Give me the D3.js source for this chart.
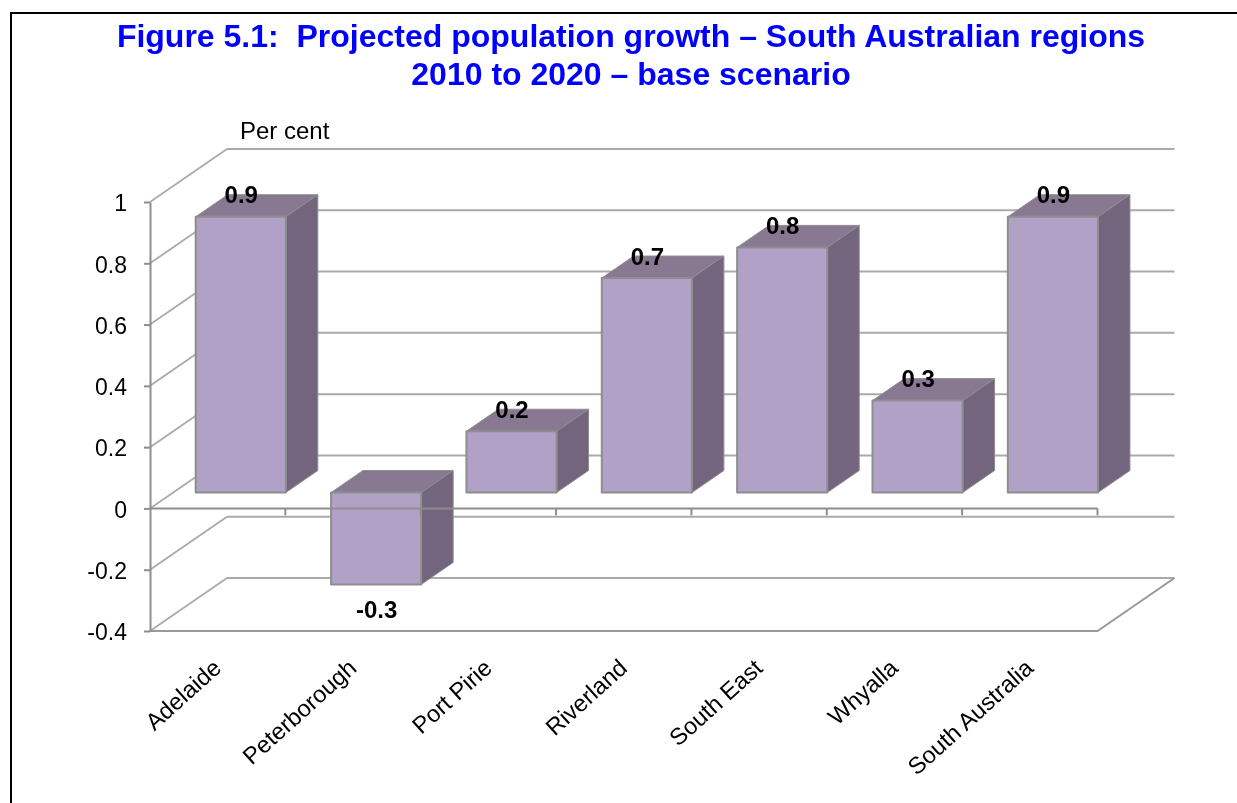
<!DOCTYPE html>
<html>
<head>
<meta charset="utf-8">
<script src="https://cdnjs.cloudflare.com/ajax/libs/d3/7.8.5/d3.min.js"></script>
<style>
html, body { margin: 0; padding: 0; background: #fff; overflow: hidden; }
svg { display: block; font-family: "Liberation Sans", Arial, sans-serif; filter: blur(0.4px); }
</style>
</head>
<body>
<div id="chart"></div>
<script>
var categories = ["Adelaide", "Peterborough", "Port Pirie", "Riverland", "South East", "Whyalla", "South Australia"];
var growth = [0.9, -0.3, 0.2, 0.7, 0.8, 0.3, 0.9];
var yTicks = [1, 0.8, 0.6, 0.4, 0.2, 0, -0.2, -0.4];
var titleLines = ["Figure 5.1:  Projected population growth \u2013 South Australian regions", "2010 to 2020 \u2013 base scenario"];

var width = 1237, height = 803;

var svg = d3.select("#chart").append("svg")
    .attr("width", width)
    .attr("height", height);

// front face of the box
var x = d3.scaleBand().domain(categories).range([150, 1097.5]);
var y = d3.scaleLinear().domain([-0.4, 1]).range([631, 202]);
// depth into the chart, 0 = front, 1 = back wall
var zx = d3.scaleLinear().domain([0, 1]).range([0, 77]);
var zy = d3.scaleLinear().domain([0, 1]).range([0, -53]);

// frame
svg.append("path")
    .attr("d", "M11,803V13H1237")
    .attr("fill", "none")
    .attr("stroke", "#000")
    .attr("stroke-width", 2);

// title
svg.selectAll(".title")
    .data(titleLines)
  .enter().append("text")
    .attr("class", "title")
    .attr("x", 631)
    .attr("y", function(d, i) { return 47 + i * 38; })
    .attr("text-anchor", "middle")
    .style("white-space", "pre")
    .style("font-size", "32px")
    .style("font-weight", "bold")
    .style("fill", "#0000ff")
    .text(function(d) { return d; });

svg.append("text")
    .attr("x", 240)
    .attr("y", 138.5)
    .style("font-size", "24px")
    .style("fill", "#000")
    .text("Per cent");

var x0 = x.range()[0], x1 = x.range()[1];

// back wall lines
svg.selectAll(".grid")
    .data(yTicks)
  .enter().append("line")
    .attr("class", "grid")
    .attr("x1", x0 + zx(1))
    .attr("x2", x1 + zx(1))
    .attr("y1", function(d) { return y(d) + zy(1); })
    .attr("y2", function(d) { return y(d) + zy(1); })
    .attr("stroke", "#aaa")
    .attr("stroke-width", 2);

// left wall lines
svg.selectAll(".diag")
    .data(yTicks)
  .enter().append("line")
    .attr("class", "diag")
    .attr("x1", x0)
    .attr("x2", x0 + zx(1))
    .attr("y1", function(d) { return y(d); })
    .attr("y2", function(d) { return y(d) + zy(1); })
    .attr("stroke", "#aaa")
    .attr("stroke-width", 1.8);

// floor front edge and right edge at the bottom
svg.append("path")
    .attr("d", "M" + x0 + "," + y(-0.4) + "H" + x1 + "L" + (x1 + zx(1)) + "," + (y(-0.4) + zy(1)))
    .attr("fill", "none")
    .attr("stroke", "#999")
    .attr("stroke-width", 2);

// bars
var barFront = 0.30, barBack = 0.715, barPad = 0.167;
var bars = svg.selectAll(".bar")
    .data(categories)
  .enter().append("g")
    .attr("class", "bar");

function pt(px, v, z) {
  return (px + zx(z)) + "," + (y(v) + zy(z));
}

function face(i, v0, v1, kind) {
  var c = categories[i];
  var l = x(c) + x.step() * barPad, r = x(c) + x.step() * (1 - barPad);
  var top = Math.max(v0, v1), bot = Math.min(v0, v1);
  if (kind == "front") return "M" + [pt(l, top, barFront), pt(r, top, barFront), pt(r, bot, barFront), pt(l, bot, barFront)].join("L") + "Z";
  if (kind == "top") return "M" + [pt(l, top, barFront), pt(l, top, barBack), pt(r, top, barBack), pt(r, top, barFront)].join("L") + "Z";
  return "M" + [pt(r, top, barFront), pt(r, top, barBack), pt(r, bot, barBack), pt(r, bot, barFront)].join("L") + "Z";
}

var faceColor = { top: "#887891", side: "#73657d", front: "#b1a1c7" };
["top", "side", "front"].forEach(function(kind) {
  bars.append("path")
      .attr("d", function(d, i) { return face(i, 0, growth[i], kind); })
      .attr("fill", faceColor[kind])
      .attr("stroke", "#8e8e8e")
      .attr("stroke-width", kind == "front" ? 2 : 1)
      .attr("stroke-linejoin", "round");
});

// axes
var yAxis = svg.append("g")
    .attr("transform", "translate(" + x0 + ",0)")
    .call(d3.axisLeft(y).tickValues(yTicks).tickSize(6).tickSizeOuter(0).tickPadding(17).tickFormat(function(d) { return String(d); }));
yAxis.select(".domain").attr("stroke", "#8e8e8e").attr("stroke-width", 2);
yAxis.selectAll(".tick line").attr("stroke", "#8e8e8e").attr("stroke-width", 2);
yAxis.selectAll("text")
    .attr("dy", "0.38em")
    .style("font-family", "\"Liberation Sans\", Arial, sans-serif")
    .style("font-size", "23px")
    .attr("fill", "#000");

svg.append("line")
    .attr("x1", x0).attr("x2", x1)
    .attr("y1", y(0)).attr("y2", y(0))
    .attr("stroke", "#8e8e8e").attr("stroke-width", 2);

svg.selectAll(".edge")
    .data(categories)
  .enter().append("line")
    .attr("class", "edge")
    .attr("x1", function(d) { return x(d) + x.step(); })
    .attr("x2", function(d) { return x(d) + x.step(); })
    .attr("y1", y(0))
    .attr("y2", y(0) + 7)
    .attr("stroke", "#8e8e8e")
    .attr("stroke-width", 2);

// category labels
svg.selectAll(".cat")
    .data(categories)
  .enter().append("text")
    .attr("class", "cat")
    .attr("text-anchor", "end")
    .attr("transform", function(d) {
      return "translate(" + (x(d) + x.step() / 2 + 5) + ",670) rotate(-42)";
    })
    .style("font-size", "23.6px")
    .style("fill", "#000")
    .text(function(d) { return d; });

// value labels
svg.selectAll(".val")
    .data(growth)
  .enter().append("text")
    .attr("class", "val")
    .attr("text-anchor", "middle")
    .attr("x", function(d, i) { return x(categories[i]) + x.step() / 2 + zx(barFront) + 0.5; })
    .attr("y", function(d) {
      return d < 0 ? y(d) + zy(barFront) + 34 : y(d) + zy(barFront) - 13.5;
    })
    .style("font-size", "24px")
    .style("font-weight", "bold")
    .style("fill", "#000")
    .text(function(d) { return d; });
</script>
</body>
</html>
